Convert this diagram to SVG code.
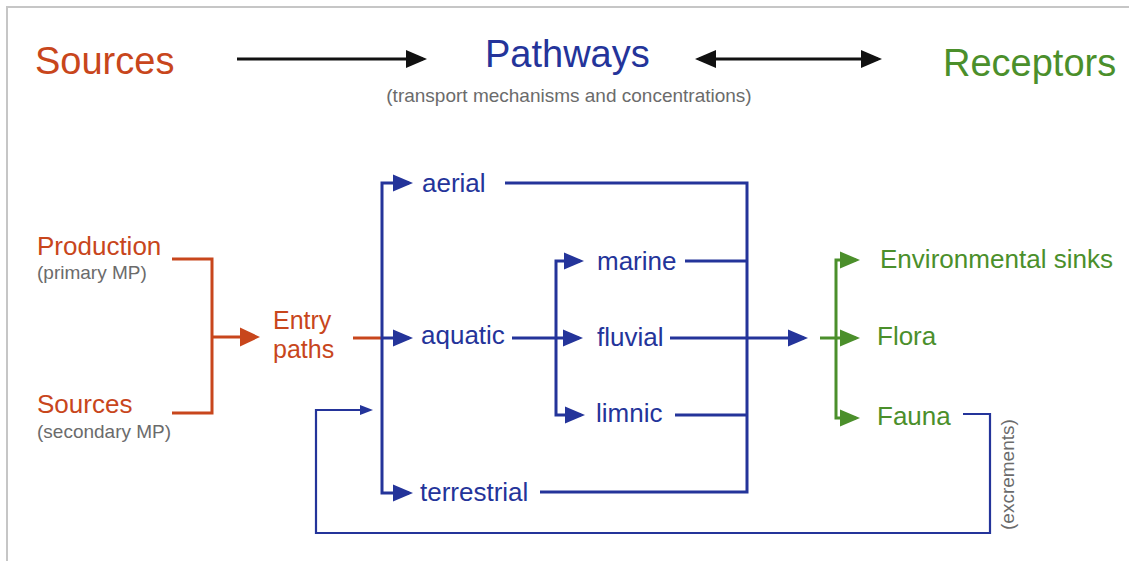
<svg xmlns="http://www.w3.org/2000/svg" width="1129" height="561" viewBox="0 0 1129 561">
<style>
text{font-family:"Liberation Sans",Arial,sans-serif}
.hd{font-size:38px}
.lb{font-size:26px}
.sm{font-size:19px;fill:#6b6b6b}
.o{fill:#c8461c}.b{fill:#24349a}.g{fill:#4b8f2b}
.lo{stroke:#c8461c;stroke-width:3;fill:none}
.lbl{stroke:#24349a;stroke-width:3;fill:none}
.lg{stroke:#4b8f2b;stroke-width:3;fill:none}
.lk{stroke:#111;stroke-width:3;fill:none}
</style>
<defs>
<marker id="mb" markerUnits="userSpaceOnUse" markerWidth="20" markerHeight="18" refX="16" refY="9" orient="auto-start-reverse"><path d="M0,0.5 L20,9 L0,17.5 z" fill="#24349a"/></marker>
<marker id="mbs" markerUnits="userSpaceOnUse" markerWidth="13" markerHeight="12" refX="9" refY="6" orient="auto-start-reverse"><path d="M0,1 L13,6 L0,11 z" fill="#24349a"/></marker>
<marker id="mo" markerUnits="userSpaceOnUse" markerWidth="20" markerHeight="20" refX="16" refY="10" orient="auto-start-reverse"><path d="M0,0.5 L20,10 L0,19.5 z" fill="#c8461c"/></marker>
<marker id="mg" markerUnits="userSpaceOnUse" markerWidth="20" markerHeight="18" refX="16" refY="9" orient="auto-start-reverse"><path d="M0,0.5 L20,9 L0,17.5 z" fill="#4b8f2b"/></marker>
<marker id="mk" markerUnits="userSpaceOnUse" markerWidth="21" markerHeight="19" refX="17" refY="9.5" orient="auto-start-reverse"><path d="M0,0.5 L21,9.5 L0,18.5 z" fill="#111"/></marker>
</defs>
<rect width="1129" height="561" fill="#fff"/>
<path d="M7,561 V7 H1129" stroke="#c6c6c6" stroke-width="2" fill="none"/>

<g id="header">
<text class="hd o" x="35" y="74">Sources</text>
<text class="hd b" x="485" y="67">Pathways</text>
<text class="sm" x="569" y="102" text-anchor="middle">(transport mechanisms and concentrations)</text>
<text class="hd g" x="943" y="76">Receptors</text>
</g>

<g id="connectors">
<path class="lk" d="M237,59 H423" marker-end="url(#mk)"/>
<path class="lk" d="M699,59 H878" marker-start="url(#mk)" marker-end="url(#mk)"/>
<path class="lo" d="M172,259 H212 V413 H172"/>
<path class="lo" d="M212,337 H256" marker-end="url(#mo)"/>
<path class="lo" d="M353,338 H382"/>
<path class="lbl" d="M409,183 H382 V493 H409" marker-start="url(#mb)" marker-end="url(#mb)"/>
<path class="lbl" d="M382,338 H409" marker-end="url(#mb)"/>
<path class="lbl" d="M580,261 H556 V415 H581" marker-start="url(#mb)" marker-end="url(#mb)"/>
<path class="lbl" d="M512,338 H579" marker-end="url(#mb)"/>
<path class="lbl" d="M505,183 H747 V492 H540"/>
<path class="lbl" d="M685,261 H747"/>
<path class="lbl" d="M675,415 H747"/>
<path class="lbl" d="M670,338 H804" marker-end="url(#mb)"/>
<path class="lg" d="M856,260 H836 V418 H856" marker-start="url(#mg)" marker-end="url(#mg)"/>
<path class="lg" d="M820,338 H856" marker-end="url(#mg)"/>
<path d="M963,414 H990 V533 H316 V410 H369" stroke="#24349a" stroke-width="2.2" fill="none" marker-end="url(#mbs)"/>
</g>

<g id="production"><text class="lb o" x="37" y="255">Production</text><text class="sm" x="37" y="279">(primary MP)</text></g>
<g id="sources2"><text class="lb o" x="37" y="413">Sources</text><text class="sm" x="37" y="438">(secondary MP)</text></g>
<g id="entry"><text class="o" style="font-size:25px" x="273" y="329">Entry</text><text class="o" style="font-size:25px" x="273" y="358">paths</text></g>
<g id="aerial"><text class="lb b" x="422" y="192">aerial</text></g>
<g id="aquatic"><text class="lb b" x="421" y="344">aquatic</text></g>
<g id="terrestrial"><text class="lb b" x="420" y="501">terrestrial</text></g>
<g id="marine"><text class="lb b" x="597" y="270">marine</text></g>
<g id="fluvial"><text class="lb b" x="597" y="346">fluvial</text></g>
<g id="limnic"><text class="lb b" x="596" y="422">limnic</text></g>
<g id="sinks"><text class="lb g" x="880" y="268" textLength="233" lengthAdjust="spacingAndGlyphs">Environmental sinks</text></g>
<g id="flora"><text class="lb g" x="877" y="345">Flora</text></g>
<g id="fauna"><text class="lb g" x="877" y="425">Fauna</text></g>
<g id="excrements"><text class="sm" transform="translate(1014,530) rotate(-90)">(excrements)</text></g>
</svg>
